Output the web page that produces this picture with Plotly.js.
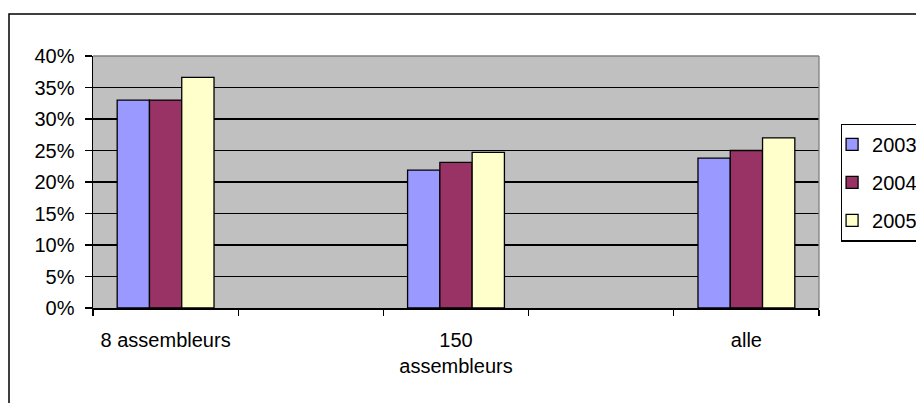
<!DOCTYPE html>
<html>
<head>
<meta charset="utf-8">
<script src="https://cdn.plot.ly/plotly-3.0.1.min.js"></script>
<style>
  html, body { margin: 0; padding: 0; background: #ffffff; overflow: hidden; }
  #chart { width: 916px; height: 403px; }
</style>
</head>
<body>
<div id="chart"></div>
<script>
// Categories (Excel layout has two empty slots between the groups)
var categories = ['8 assembleurs', ' ', '150<br>assembleurs', '  ', 'alle'];
var seriesNames = ['2003', '2004', '2005'];
var values2003 = [0.330, null, 0.219, null, 0.238];
var values2004 = [0.330, null, 0.231, null, 0.250];
var values2005 = [0.366, null, 0.247, null, 0.270];
var colors = ['#9999FF', '#993366', '#FFFFCC'];
var yTickVals = [0, 0.05, 0.10, 0.15, 0.20, 0.25, 0.30, 0.35, 0.40];

var allValues = [values2003, values2004, values2005];
var font = { family: 'Liberation Sans, Arial, sans-serif', size: 20, color: '#000000' };

var traces = seriesNames.map(function (name, i) {
  return {
    type: 'bar',
    name: name,
    x: categories,
    y: allValues[i],
    legendgroup: 'g' + i,
    marker: { color: colors[i], line: { color: '#000000', width: 1.3 } },
    hoverinfo: 'none'
  };
});

var layout = {
  width: 916,
  height: 403,
  margin: { l: 93, r: 97, t: 56, b: 95, autoexpand: false },
  paper_bgcolor: '#ffffff',
  plot_bgcolor: '#C0C0C0',
  font: font,
  barmode: 'group',
  bargap: 0.333,
  bargroupgap: 0,
  showlegend: true,
  legend: {
    x: 1.03, xanchor: 'left',
    y: 0.732, yanchor: 'top',
    bgcolor: '#ffffff',
    bordercolor: '#000000',
    borderwidth: 1.3,
    font: font,
    traceorder: 'grouped',
    tracegroupgap: 9,
    indentation: -10,
    itemclick: false
  },
  xaxis: {
    type: 'category',
    categoryorder: 'array',
    categoryarray: categories,
    range: [-0.5, 4.5],
    tickson: 'boundaries',
    ticks: 'outside',
    ticklen: 6,
    tickwidth: 1.3,
    tickcolor: '#000000',
    showline: true,
    linecolor: '#000000',
    linewidth: 1.5,
    showgrid: false,
    zeroline: false,
    ticklabelstandoff: 13,
    tickfont: font,
    fixedrange: true
  },
  yaxis: {
    range: [0, 0.4],
    tickvals: yTickVals,
    tickformat: '.0%',
    ticks: 'outside',
    ticklen: 7,
    tickwidth: 1.3,
    tickcolor: '#000000',
    showline: true,
    linecolor: '#000000',
    linewidth: 1.5,
    showgrid: true,
    gridcolor: '#000000',
    gridwidth: 1.2,
    zeroline: false,
    ticklabelstandoff: 6,
    tickfont: font,
    fixedrange: true
  },
  shapes: [
    // outer chart frame (extends past the right and bottom edges)
    { type: 'rect', xref: 'paper', yref: 'paper',
      x0: -0.1157, x1: 1.5, y0: -0.6, y1: 1.1667,
      line: { color: '#000000', width: 1.5 }, fillcolor: 'rgba(0,0,0,0)', layer: 'below' },
    // plot-area top and right border (grey)
    { type: 'line', xref: 'paper', yref: 'paper', x0: 0, x1: 1, y0: 1, y1: 1,
      line: { color: '#808080', width: 1.3 }, layer: 'above' },
    { type: 'line', xref: 'paper', yref: 'paper', x0: 1, x1: 1, y0: 0, y1: 1,
      line: { color: '#808080', width: 1.3 }, layer: 'above' }
  ]
};

Plotly.newPlot('chart', traces, layout, { displayModeBar: false, staticPlot: true });
</script>
</body>
</html>
